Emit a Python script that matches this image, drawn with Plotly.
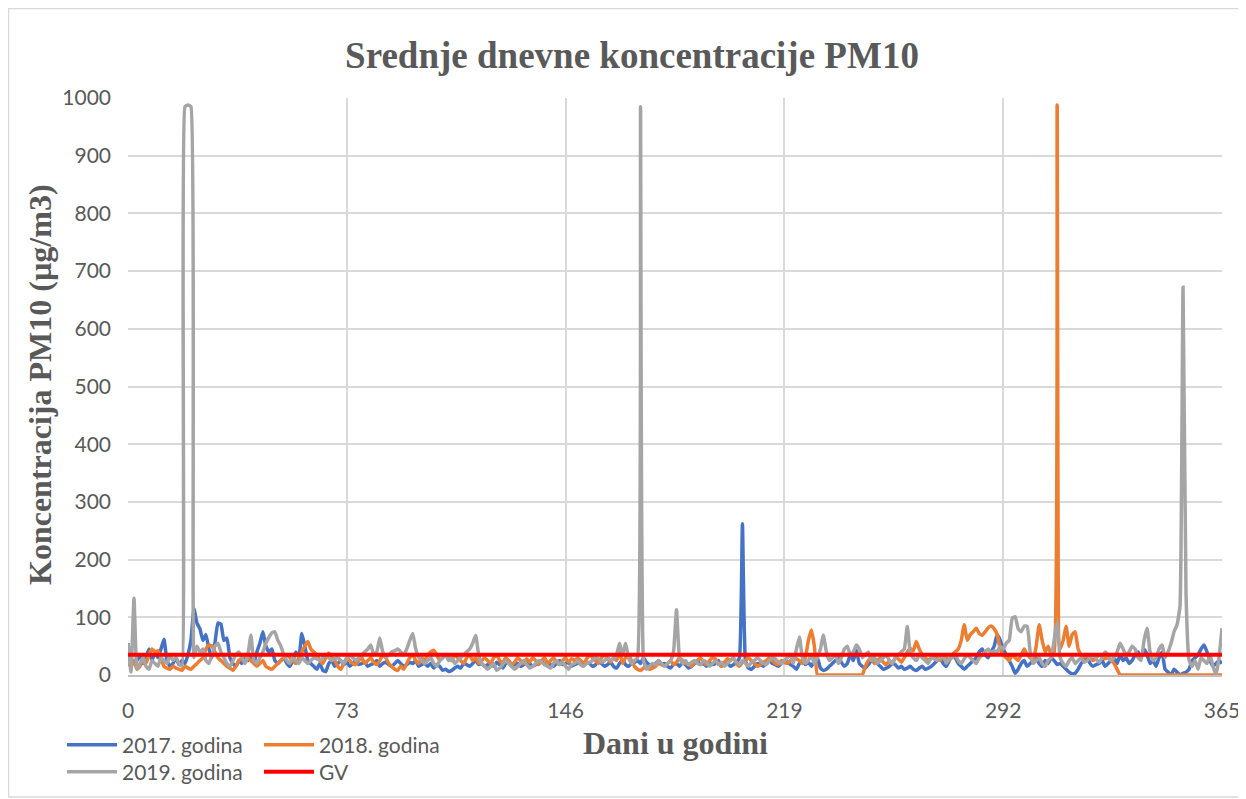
import plotly.graph_objects as go

days = list(range(0, 366))
x_ticks = [0, 73, 146, 219, 292, 365]
y_ticks = list(range(0, 1001, 100))
gv_value = 35

s2017 = [
    55, 30, 20, 25, 35, 20, 30, 45, 25, 40,
    30, 45, 62, 25, 15, 20, 30, 18, 25, 20,
    35, 60, 115, 90, 80, 60, 70, 45, 30, 55,
    90, 88, 60, 64, 30, 20, 15, 25, 20, 30,
    25, 35, 20, 40, 55, 75, 50, 40, 45, 25,
    20, 25, 30, 20, 15, 25, 40, 30, 72, 50,
    25, 20, 15, 10, 20, 8, 6, 20, 25, 15,
    20, 25, 18, 22, 15, 20, 25, 18, 20, 22,
    15, 18, 20, 25, 15, 20, 22, 18, 15, 20,
    25, 20, 15, 18, 22, 20, 25, 15, 18, 20,
    15, 20, 12, 18, 15, 8, 10, 6, 8, 12,
    15, 12, 20, 18, 15, 20, 25, 18, 20, 15,
    18, 20, 15, 22, 18, 12, 20, 25, 15, 18,
    20, 15, 18, 22, 20, 15, 18, 20, 25, 18,
    22, 18, 15, 20, 25, 18, 20, 22, 15, 18,
    20, 25, 18, 22, 20, 15, 18, 25, 20, 15,
    18, 22, 15, 12, 20, 25, 18, 15, 20, 22,
    25, 20, 30, 22, 18, 15, 20, 25, 18, 20,
    15, 12, 18, 20, 15, 22, 18, 12, 15, 20,
    25, 18, 20, 15, 22, 18, 20, 25, 15, 18,
    20, 15, 18, 22, 30, 262, 25, 12, 10, 15,
    20, 18, 15, 22, 25, 20, 18, 15, 20, 25,
    22, 18, 15, 10, 20, 25, 18, 22, 15, 25,
    30, 12, 8, 10, 15, 20, 25, 30, 22, 15,
    20, 35, 25, 43, 20, 15, 12, 18, 25, 30,
    20, 15, 10, 12, 15, 20, 18, 12, 15, 10,
    12, 15, 10, 8, 12, 15, 10, 12, 15, 20,
    25, 30, 20, 15, 25, 35, 30, 20, 15, 10,
    15, 20, 25, 30, 40, 45, 35, 30, 40, 50,
    70, 60, 45, 35, 25, 15, 3, 10, 20, 25,
    15, 20, 25, 30, 20, 15, 25, 20, 30, 25,
    18, 20, 15, 10, 5, 2, 3, 10, 20, 25,
    30, 20, 15, 18, 20, 25, 15, 20, 25, 30,
    20, 35, 25, 30, 20, 25, 35, 40, 30, 45,
    35, 20, 25, 15, 30, 40, 10, 5, 0, 10,
    5, 0, 3, 5, 10, 25, 30, 35, 45, 52,
    40, 25, 15, 20, 25, 20,
]

s2018 = [
    20, 15, 25, 10, 15, 30, 20, 35, 45, 40,
    42, 30, 15, 12, 10, 15, 12, 10, 8, 15,
    12, 10, 15, 20, 25, 30, 45, 52, 50, 40,
    30, 25, 20, 15, 12, 8, 15, 25, 30, 35,
    30, 25, 20, 15, 20, 25, 15, 12, 10, 15,
    20, 25, 30, 35, 30, 25, 20, 30, 40, 50,
    58, 45, 40, 35, 25, 20, 30, 38, 30, 25,
    15, 10, 20, 30, 25, 20, 18, 25, 30, 20,
    25, 30, 22, 18, 25, 35, 30, 20, 15, 10,
    8, 15, 10, 20, 30, 35, 25, 20, 30, 25,
    35, 40, 43, 35, 25, 30, 35, 30, 25, 35,
    30, 25, 20, 30, 35, 25, 30, 20, 25, 30,
    25, 20, 30, 35, 25, 20, 30, 25, 18, 22,
    30, 25, 20, 28, 22, 30, 25, 18, 25, 30,
    20, 25, 30, 22, 18, 25, 30, 22, 28, 25,
    30, 25, 20, 28, 35, 30, 25, 20, 30, 35,
    28, 22, 30, 25, 40, 20, 30, 35, 25, 15,
    10, 8, 12, 15, 10, 12, 15, 20, 18, 15,
    20, 25, 18, 22, 30, 25, 20, 18, 15, 22,
    25, 30, 22, 18, 25, 30, 28, 20, 15, 22,
    28, 25, 30, 20, 15, 22, 25, 30, 25, 20,
    15, 18, 22, 25, 30, 25, 20, 18, 25, 22,
    20, 25, 30, 28, 25, 20, 30, 60, 78, 50,
    0, 0, 0, 0, 0, 0, 0, 0, 0, 0,
    0, 0, 0, 0, 0, 0, 15, 25, 29, 20,
    25, 30, 22, 18, 25, 20, 30, 28, 22, 30,
    40, 46, 42, 58, 45, 35, 30, 25, 30, 35,
    30, 25, 35, 30, 25, 35, 40, 45, 60, 87,
    60, 70, 75, 81, 72, 69, 75, 82, 85, 80,
    70, 45, 35, 30, 25, 35, 30, 25, 35, 45,
    35, 30, 25, 50, 87, 60, 40, 50, 35, 40,
    988, 45, 60, 84, 50, 70, 75, 45, 35, 30,
    35, 30, 25, 30, 35, 32, 28, 30, 25, 20,
    10, 0, 0, 0, 0, 0, 0, 0, 0, 0,
    0, 0, 0, 0, 0, 0, 0, 0, 0, 0,
    0, 0, 0, 0, 0, 0, 0, 0, 0, 0,
    0, 0, 0, 0, 0, 0,
]

s2019 = [
    55, 5, 133, 10, 20, 30, 15, 10, 25, 20,
    15, 30, 25, 20, 35, 25, 30, 20, 15, 985,
    988, 985, 30, 50, 40, 45, 25, 20, 35, 50,
    55, 40, 30, 20, 15, 25, 35, 40, 30, 20,
    35, 69, 25, 20, 30, 40, 55, 65, 73, 75,
    60, 50, 35, 25, 20, 30, 25, 20, 30, 25,
    20, 25, 30, 28, 25, 30, 35, 30, 25, 28,
    30, 25, 20, 28, 35, 30, 25, 30, 35, 40,
    45, 52, 35, 40, 64, 40, 30, 35, 40, 42,
    45, 40, 35, 45, 60, 72, 45, 30, 25, 20,
    25, 30, 20, 15, 25, 30, 35, 25, 30, 20,
    25, 30, 35, 40, 45, 55, 69, 35, 20, 15,
    10, 15, 20, 8, 12, 18, 25, 20, 15, 10,
    15, 20, 25, 18, 12, 15, 20, 25, 22, 18,
    15, 12, 20, 25, 18, 22, 15, 10, 18, 20,
    25, 18, 15, 20, 22, 25, 30, 28, 22, 25,
    30, 25, 28, 35, 55, 35, 55, 30, 20, 25,
    30, 985, 25, 10, 15, 20, 18, 25, 20, 15,
    20, 25, 40, 113, 30, 20, 25, 18, 22, 25,
    20, 18, 25, 22, 15, 20, 25, 18, 22, 15,
    20, 25, 30, 22, 18, 25, 20, 15, 22, 25,
    30, 25, 20, 18, 25, 30, 28, 22, 20, 25,
    30, 35, 20, 45, 66, 30, 20, 25, 35, 20,
    30, 45, 69, 40, 25, 30, 35, 20, 30, 45,
    50, 35, 40, 52, 45, 30, 35, 40, 25, 30,
    20, 25, 30, 35, 25, 20, 30, 35, 40, 45,
    84, 40, 30, 25, 35, 30, 25, 20, 30, 28,
    25, 30, 35, 20, 28, 30, 35, 25, 20, 28,
    35, 30, 25, 20, 30, 35, 40, 45, 38, 42,
    40, 50, 45, 55, 60, 98, 101, 80, 75, 85,
    84, 40, 20, 25, 30, 20, 15, 25, 30, 60,
    92, 30, 20, 15, 25, 30, 20, 25, 30, 22,
    25, 30, 35, 28, 22, 30, 40, 35, 25, 30,
    40, 55, 45, 35, 40, 50, 45, 30, 25, 60,
    81, 40, 25, 30, 45, 52, 30, 40, 55, 75,
    87, 120, 672, 140, 26, 15, 25, 10, 30, 25,
    20, 35, 15, 0, 30, 81,
]

gv = [gv_value for _ in days]

series_names = ["2017. godina", "2018. godina", "2019. godina", "GV"]
colors = ["#4472C4", "#ED7D31", "#A5A5A5", "#FF0000"]

# The page body adds an 8px margin, so the figure is sized/positioned to compensate.
OFF = 8
W, H = 1246 - OFF, 799 - OFF
L, R, T, B = 128 - OFF, 1222 - OFF, 98 - OFF, 675 - OFF

line_shape = dict(shape="spline", smoothing=0.4)

fig = go.Figure()
fig.add_trace(go.Scatter(x=days, y=s2017, mode="lines", name=series_names[0],
                         line=dict(color=colors[0], width=3.5, **line_shape), legend="legend"))
fig.add_trace(go.Scatter(x=days, y=s2018, mode="lines", name=series_names[1],
                         line=dict(color=colors[1], width=3.5, **line_shape), legend="legend"))
fig.add_trace(go.Scatter(x=days, y=s2019, mode="lines", name=series_names[2],
                         line=dict(color=colors[2], width=3.5, **line_shape), legend="legend2"))
fig.add_trace(go.Scatter(x=days, y=gv, mode="lines", name=series_names[3],
                         line=dict(color=colors[3], width=4), legend="legend2"))

tick_font = dict(family="Lato, Calibri, sans-serif", size=21, color="#595959")
legend_font = dict(family="Lato, Calibri, sans-serif", size=21, color="#595959")
title_font_family = "Liberation Serif, Times New Roman, serif"

legend_common = dict(orientation="h", xref="container", yref="container",
                     xanchor="left", yanchor="middle", bgcolor="rgba(0,0,0,0)",
                     font=legend_font, entrywidth=132, entrywidthmode="pixels",
                     itemwidth=50, tracegroupgap=0)

fig.update_layout(
    width=W, height=H,
    margin=dict(l=L, r=W - R, t=T, b=H - B, autoexpand=False),
    paper_bgcolor="white", plot_bgcolor="white",
    title=dict(text="<b>Srednje dnevne koncentracije PM10</b>",
               x=(632 - OFF) / W, xref="container", xanchor="center",
               y=1 - (55 - OFF) / H, yref="container", yanchor="middle",
               font=dict(family=title_font_family, size=37, color="#595959")),
    xaxis=dict(range=[0, 365], tickvals=x_ticks, ticktext=[str(v) for v in x_ticks],
               showgrid=True, gridcolor="#d9d9d9", gridwidth=1.5,
               zeroline=False, showline=True, linecolor="#bfbfbf", linewidth=1.5,
               ticks="", ticklabelstandoff=16, tickfont=tick_font),
    yaxis=dict(range=[0, 1000], tickvals=y_ticks, ticktext=[str(v) for v in y_ticks],
               showgrid=True, gridcolor="#d9d9d9", gridwidth=1.5,
               zeroline=False, showline=False,
               ticks="", ticklabelstandoff=16, tickfont=tick_font),
    legend=dict(x=(62 - OFF) / W, y=(799 - 745) / H, **legend_common),
    legend2=dict(x=(62 - OFF) / W, y=(799 - 772) / H, **legend_common),
    annotations=[
        dict(text="<b>Dani u godini</b>", xref="paper", yref="paper",
             x=0.5, y=(B - (743 - OFF)) / (B - T), xanchor="center", yanchor="middle",
             showarrow=False,
             font=dict(family=title_font_family, size=32, color="#595959")),
        dict(text="<b>Koncentracija PM10 (µg/m3)</b>", xref="paper", yref="paper",
             x=(40 - OFF - L) / (R - L), y=(B - (385 - OFF)) / (B - T),
             xanchor="center", yanchor="middle",
             textangle=-90, showarrow=False,
             font=dict(family=title_font_family, size=32, color="#595959")),
    ],
    shapes=[
        dict(type="rect", xref="paper", yref="paper",
             x0=(0.5 - L) / (R - L), x1=(1244 - OFF - L) / (R - L),
             y0=(B - (797 - OFF)) / (B - T), y1=(B - 0.5) / (B - T),
             line=dict(color="#d9d9d9", width=1.5), fillcolor="rgba(0,0,0,0)",
             layer="below"),
    ],
    showlegend=True,
)

fig.write_html("out.html")
